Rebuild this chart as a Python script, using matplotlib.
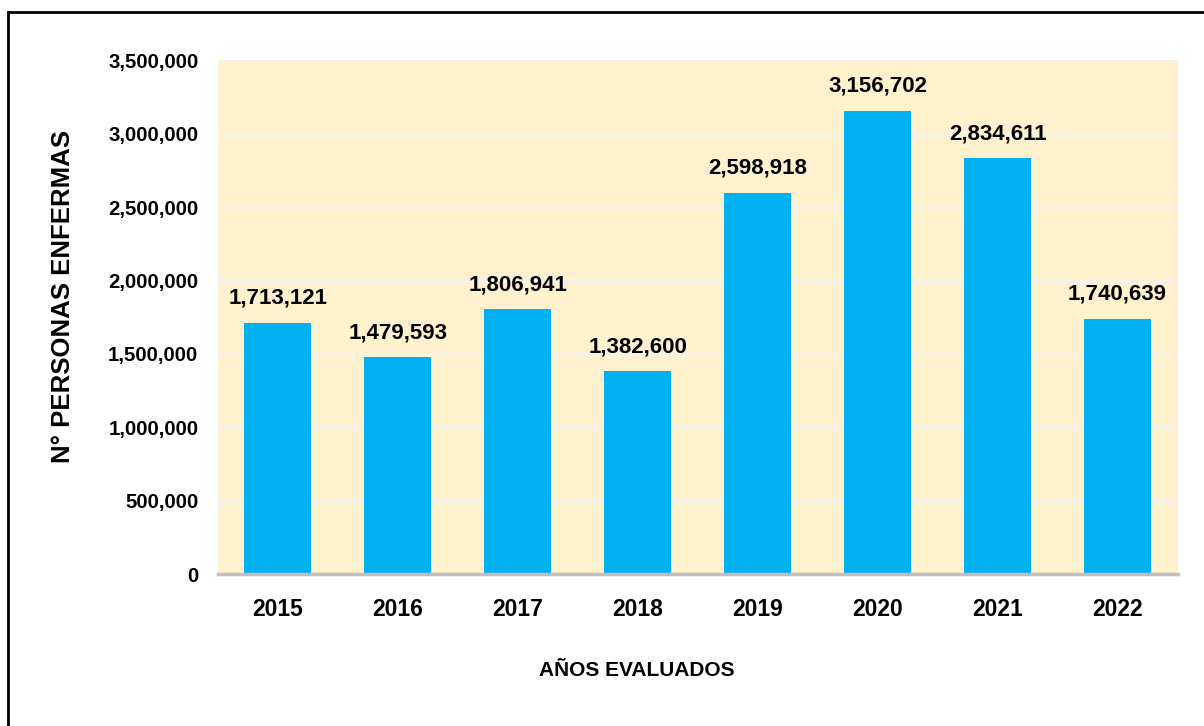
import matplotlib
matplotlib.use('Agg')
import matplotlib.pyplot as plt
from matplotlib.lines import Line2D
from matplotlib.ticker import FuncFormatter

years = ['2015', '2016', '2017', '2018', '2019', '2020', '2021', '2022']
enfermas = [1713121, 1479593, 1806941, 1382600, 2598918, 3156702, 2834611, 1740639]
yticks = [0, 500000, 1000000, 1500000, 2000000, 2500000, 3000000, 3500000]

narrow = ['Liberation Sans Narrow', 'Liberation Sans', 'DejaVu Sans']
plt.rcParams['font.family'] = narrow
plt.rcParams['font.weight'] = 'bold'

fig = plt.figure(figsize=(12.04, 7.26), dpi=100)
ax = fig.add_axes([0.181, 0.209, 0.797, 0.708])
ax.set_facecolor('#FFF1CD')

x = range(len(years))
bars = ax.bar(x, enfermas, width=0.56, color='#00B0F0', zorder=3)
for b, v in zip(bars, enfermas):
    ax.annotate(f'{v:,}', (b.get_x() + b.get_width() / 2, v), xytext=(0, 10),
                textcoords='offset points', ha='center', va='bottom',
                fontsize=16, fontweight='bold')

ax.set_xlim(-0.5, len(years) - 0.5)
ax.set_ylim(0, 3500000)
ax.set_yticks(yticks)
ax.yaxis.set_major_formatter(FuncFormatter(lambda v, p: f'{int(v):,}'))
ax.set_xticks(list(x))
ax.set_xticklabels(years)
ax.tick_params(axis='y', length=0, pad=14, labelsize=14.7)
ax.tick_params(axis='x', length=0, pad=17, labelsize=16.5)
ax.grid(axis='y', color='#F2F2F2', linewidth=1.8, zorder=1)
for s in ['top', 'right', 'left']:
    ax.spines[s].set_visible(False)
ax.spines['bottom'].set_color('#BFBFBF')
ax.spines['bottom'].set_linewidth(2.5)
ax.spines['bottom'].set_zorder(4)

fig.text(0.529, 0.077, 'AÑOS EVALUADOS', ha='center', va='center',
         fontsize=15, fontweight='bold')
fig.text(0.052, 0.591, 'N° PERSONAS ENFERMAS', ha='center', va='center',
         rotation=90, fontsize=18.5, fontweight='bold',
         family=['Liberation Sans', 'DejaVu Sans'])

# frame around the figure (top and left edges only visible)
fig.add_artist(Line2D([0.0066, 1.0], [0.984, 0.984], color='black', linewidth=2))
fig.add_artist(Line2D([0.0066, 0.0066], [0.0, 0.984], color='black', linewidth=2))

fig.savefig('out.png', dpi=100)
plt.close(fig)
